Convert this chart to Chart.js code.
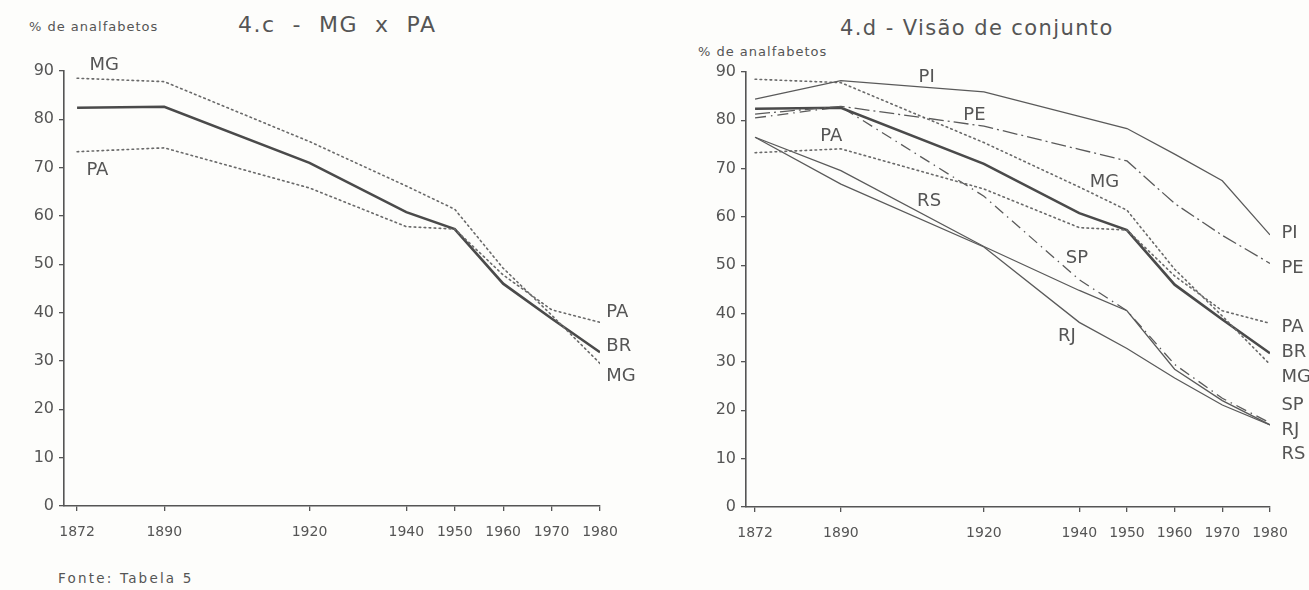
<!DOCTYPE html>
<html>
<head>
<meta charset="utf-8">
<script src="https://cdn.jsdelivr.net/npm/chart.js@4.4.1/dist/chart.umd.min.js"></script>
<style>
  html, body { margin:0; padding:0; background:#fdfdfb; }
  body { width:1309px; height:590px; position:relative; overflow:hidden; font-family:"DejaVu Sans", sans-serif; color:#555; }
  .t { position:absolute; white-space:pre; color:#555; }
  canvas { position:absolute; }
</style>
</head>
<body>
<div class="t" style="left:29px; top:19px; font-size:13px; letter-spacing:1px;">% de analfabetos</div>
<div class="t" style="left:238px; top:12px; font-size:22px; letter-spacing:1.5px;">4.c  -  MG  x  PA</div>
<div class="t" style="left:840px; top:16px; font-size:21px; letter-spacing:1.4px;">4.d - Visão de conjunto</div>
<div class="t" style="left:698px; top:44px; font-size:13px; letter-spacing:1px;">% de analfabetos</div>
<div class="t" style="left:58px; top:570px; font-size:13.5px; letter-spacing:2.2px;">Fonte: Tabela 5</div>

<canvas id="c1" width="660" height="590" style="left:0;top:0;"></canvas>
<canvas id="c2" width="629" height="590" style="left:680px;top:0;"></canvas>

<script>
// ---- data ----
const years = [1872, 1890, 1920, 1940, 1950, 1960, 1970, 1980];
const yearTicks = [1872, 1890, 1920, 1940, 1950, 1960, 1970, 1980];
const BR = [82.4, 82.6, 71.0, 60.8, 57.3, 46.0, 38.8, 31.8];
const MG = [88.5, 87.8, 75.4, 66.2, 61.4, 49.2, 39.5, 29.5];
const PA = [73.3, 74.1, 65.8, 57.8, 57.3, 47.8, 40.6, 38.0];
const PI = [84.4, 88.2, 85.9, 80.8, 78.3, 73.0, 67.5, 56.3];
const PE = [81.3, 82.9, 78.8, 74.0, 71.6, 62.8, 56.2, 50.4];
const SP = [80.5, 82.8, 64.3, 47.0, 40.6, 29.5, 22.5, 17.4];
const RJ = [76.5, 66.8, 53.8, 38.2, 32.8, 26.7, 21.1, 17.0];
const RS = [76.5, 69.6, 53.9, 44.8, 40.6, 28.5, 22.0, 17.0];

// series name annotations, placed in data coordinates [year, %]
const leftNames = [
  ['MG', 1877.6, 91.2, 'center'], ['PA', 1876.2, 69.5, 'center'],
  ['PA', 1981.3, 40.1, 'left'], ['BR', 1981.3, 33.0, 'left'], ['MG', 1981.3, 26.8, 'left']
];
const rightNames = [
  ['PI', 1908, 89.0, 'center'], ['PE', 1918, 81.1, 'center'], ['PA', 1888, 76.6, 'center'],
  ['MG', 1945.3, 67.1, 'center'], ['RS', 1908.5, 63.2, 'center'], ['SP', 1939.5, 51.5, 'center'],
  ['RJ', 1937.4, 35.4, 'center'],
  ['PI', 1982.4, 56.6, 'left'], ['PE', 1982.4, 49.4, 'left'], ['PA', 1982.4, 37.1, 'left'],
  ['BR', 1982.4, 31.9, 'left'], ['MG', 1982.4, 26.9, 'left'], ['SP', 1982.4, 21.1, 'left'],
  ['RJ', 1982.4, 15.9, 'left'], ['RS', 1982.4, 10.8, 'left']
];

// ---- styles ----
const INK = '#555';
const pts = arr => years.map((y, i) => ({x: y, y: arr[i]}));
const dotted = (label, arr) => ({label, data: pts(arr), borderColor: '#6a6a6a', borderWidth: 1.6, borderDash: [1.6, 3.4], borderCapStyle: 'round', pointRadius: 0, tension: 0});
const thick = (label, arr) => ({label, data: pts(arr), borderColor: '#4a4a4a', borderWidth: 2.6, pointRadius: 0, tension: 0});
const thin = (label, arr, dash) => ({label, data: pts(arr), borderColor: '#5a5a5a', borderWidth: 1.3, borderDash: dash || [], pointRadius: 0, tension: 0});

const namePlugin = names => ({
  id: 'names',
  afterDatasetsDraw(chart) {
    const {ctx, scales: {x, y}} = chart;
    ctx.save();
    ctx.fillStyle = INK;
    ctx.font = '18px "DejaVu Sans", sans-serif';
    ctx.textBaseline = 'middle';
    names.forEach(([t, yr, v, al]) => {
      ctx.textAlign = al;
      ctx.fillText(t, x.getPixelForValue(yr), y.getPixelForValue(v));
    });
    ctx.restore();
  }
});

function makeChart(id, datasets, xmin, yAxisW, pad, names) {
  return new Chart(document.getElementById(id), {
    type: 'line',
    data: {datasets},
    options: {
      responsive: false, animation: false,
      layout: {padding: pad},
      plugins: {legend: {display: false}, tooltip: {enabled: false}, title: {display: false}},
      scales: {
        x: {
          type: 'linear', min: xmin, max: 1980,
          afterBuildTicks: s => { s.ticks = yearTicks.map(v => ({value: v})); },
          afterFit: s => { s.height = 40; },
          ticks: {autoSkip: false, maxRotation: 0, color: INK, padding: 13, font: {size: 14, family: '"DejaVu Sans", sans-serif'}, callback: v => String(v)},
          grid: {display: true, drawOnChartArea: false, drawTicks: true, tickLength: 5, color: INK, lineWidth: 1.3},
          border: {display: true, color: INK, width: 1.6}
        },
        y: {
          min: 0, max: 90,
          afterFit: s => { s.width = yAxisW; },
          ticks: {stepSize: 10, color: INK, padding: 5, font: {size: 16, family: '"DejaVu Sans", sans-serif'}, callback: v => String(v)},
          grid: {display: true, drawOnChartArea: false, drawTicks: true, tickLength: 5, color: INK, lineWidth: 1.3},
          border: {display: true, color: INK, width: 1.6}
        }
      }
    },
    plugins: [namePlugin(names)]
  });
}

makeChart('c1', [dotted('MG', MG), dotted('PA', PA), thick('BR', BR)],
  1869.3, 64, {left: 0, right: 60, top: 71, bottom: 44}, leftNames);

makeChart('c2', [
  thin('PI', PI), thin('PE', PE, [15, 4, 2, 4]), dotted('MG', MG), dotted('PA', PA),
  thick('BR', BR), thin('SP', SP, [11, 5, 1.5, 5]), thin('RJ', RJ), thin('RS', RS)
], 1870.1, 66, {left: 0, right: 39, top: 72, bottom: 43}, rightNames);
</script>
</body>
</html>
